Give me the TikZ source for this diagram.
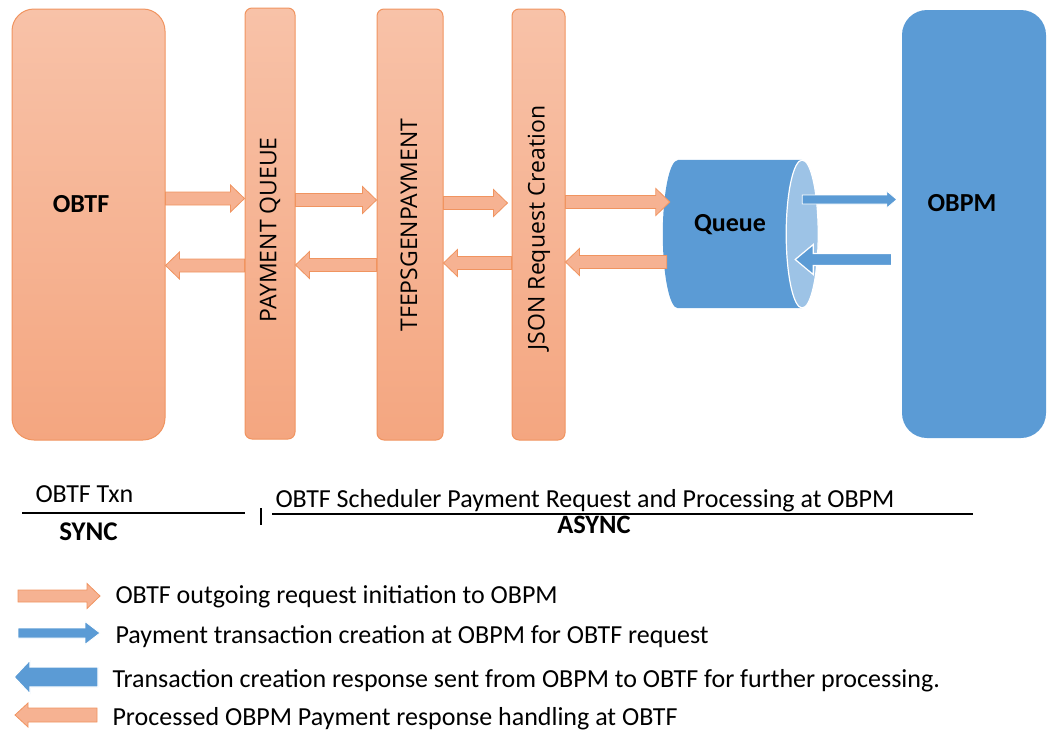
\documentclass[tikz,border=0pt]{standalone}
\usepackage{fontspec}
\setmainfont{Carlito}
\newfontfamily\lanefont{Open Sans}
\usepackage{tikz}
\usetikzlibrary{calc}
\usepackage{xcolor}
\definecolor{peach}{RGB}{246,178,146}
\definecolor{peachtop}{RGB}{248,194,168}
\definecolor{peachbot}{RGB}{244,166,128}
\definecolor{peachline}{RGB}{240,148,96}
\definecolor{steel}{RGB}{91,155,213}
\definecolor{steellight}{RGB}{157,195,230}

\tikzset{
  lane/.style={draw=peachline, line width=1pt, top color=peachtop, bottom color=peachbot, rounded corners=7pt, inner sep=0pt},
  lanetext/.style={rotate=90, font=\lanefont\fontsize{23}{27}\selectfont},
  bigtext/.style={font=\bfseries\fontsize{26}{30}\selectfont},
  keytext/.style={anchor=base west, font=\fontsize{26}{30}\selectfont},
  barrow/.style n args={3}{to path={let \p1=(\tikztostart), \p2=(\tikztotarget),
      \p3=({\x2-ifthenelse(\x2>\x1,1,-1)*#3},\y2) in
      (\x1,\y1+#1) -- (\x3,\y1+#1) -- (\x3,\y1+#2) -- (\p2) -- (\x3,\y1-#2)
      -- (\x3,\y1-#1) -- (\x1,\y1-#1) -- cycle}},
  orarr/.style={barrow={6.5pt}{13.5pt}{14pt}, fill=peach, draw=peachline, line width=.8pt},
  blarr/.style={barrow={4.5pt}{8.5pt}{10pt}, fill=steel, draw=white, line width=.8pt},
  blbackarr/.style={barrow={6pt}{15pt}{18pt}, fill=steel, draw=white, line width=1.2pt},
}

\begin{document}
\begin{tikzpicture}[x=1pt, y=-1pt]
\useasboundingbox (0,0) rectangle (1049,734);

\node[lane, rounded corners=22pt, minimum width=153pt, minimum height=431pt] (obtf) at (88.5,224.5) {};
\node[lane, minimum width=50pt, minimum height=431pt] (pq) at (270,223.5) {};
\node[lane, minimum width=66pt, minimum height=431pt] (tf) at (410,224.5) {};
\node[lane, minimum width=53pt, minimum height=431pt] (json) at (538.5,224.5) {};
\node[fill=steel, rounded corners=25pt, minimum width=144pt, minimum height=428pt] (obpm) at (974,224) {};
\node[minimum width=124pt, minimum height=148pt, inner sep=0pt] (queue) at (740,234) {};

\fill[steel] (queue.north west) -- (queue.north east) -- (queue.south east) -- (queue.south west)
  arc[start angle=270, end angle=90, x radius=15pt, y radius=74pt] -- cycle;
\draw[white, line width=1.2pt, fill=steellight] (queue.east) ellipse[x radius=16pt, y radius=74pt];

\node[bigtext] (obtf-t) at (81,204) {OBTF};
\node[bigtext] (obpm-t) at (962,203) {OBPM};
\node[bigtext] (queue-t) at (730,225) {Queue};
\node[lanetext] (pq-t) at (270,230) {PAYMENT QUEUE};
\node[lanetext] (tf-t) at (409,225) {TFEPSGENPAYMENT};
\node[lanetext] (json-t) at (539,228) {JSON Request Creation};

\draw[orarr] (obtf.east |- 0,198.5) to (pq.west |- 0,198.5);
\draw[orarr] (pq.west |- 0,265.5) to (obtf.east |- 0,265.5);
\draw[orarr] (pq.east |- 0,200) to (tf.west |- 0,200);
\draw[orarr] (tf.west |- 0,265) to (pq.east |- 0,265);
\draw[orarr] (tf.east |- 0,203) to ($(json.west |- 0,203)+(-4,0)$);
\draw[orarr] (json.west |- 0,263) to (tf.east |- 0,263);
\draw[orarr] (json.east |- 0,202) to ($(queue.west |- 0,202)+(-8,0)$);
\draw[orarr] ($(queue.west |- 0,262)+(-11,0)$) to (json.east |- 0,262);
\draw[blarr] (queue.east |- 0,199.5) to ($(obpm.west |- 0,199.5)+(-5,0)$);
\draw[blbackarr] ($(obpm.west |- 0,259.5)+(-10,0)$) to ($(queue.east |- 0,259.5)+(-7,0)$);

\node[anchor=base west, font=\fontsize{26}{30}\selectfont] (sync-t) at (32,502) {OBTF Txn};
\node[anchor=base, font=\bfseries\fontsize{27}{31}\selectfont] (sync) at (88.5,540) {SYNC};
\node[anchor=base west, font=\fontsize{26}{30}\selectfont] (async-t) at (272,507) {OBTF Scheduler Payment Request and Processing at OBPM};
\node[anchor=base, font=\bfseries\fontsize{26.5}{31}\selectfont] (async) at (594,533) {ASYNC};
\draw[line width=2pt] (22,513) -- (245,513);
\draw[line width=1.5pt] (261,508) -- (261,525);
\draw[line width=2pt] (272,514) -- (973,514);

\coordinate (ka1) at (18,596);
\coordinate (kb1) at (100,596);
\coordinate (ka2) at (18,633);
\coordinate (kb2) at (100,633);
\coordinate (ka3) at (98,677);
\coordinate (kb3) at (14,677);
\coordinate (ka4) at (97,715);
\coordinate (kb4) at (15,715);
\draw[orarr, barrow={6pt}{12.5pt}{13pt}] (ka1) to (kb1);
\draw[blarr, barrow={5pt}{11.5pt}{15pt}] (ka2) to (kb2);
\draw[blbackarr, barrow={10pt}{17pt}{16pt}] (ka3) to (kb3);
\draw[orarr, barrow={7pt}{12pt}{13pt}] (ka4) to (kb4);
\node[keytext] (key1) at (112,603) {OBTF outgoing request initiation to OBPM};
\node[keytext] (key2) at (112,643) {Payment transaction creation at OBPM for OBTF request};
\node[keytext] (key3) at (109,687) {Transaction creation response sent from OBPM to OBTF for further processing.};
\node[keytext] (key4) at (109,725) {Processed OBPM Payment response handling at OBTF};
\end{tikzpicture}
\end{document}
